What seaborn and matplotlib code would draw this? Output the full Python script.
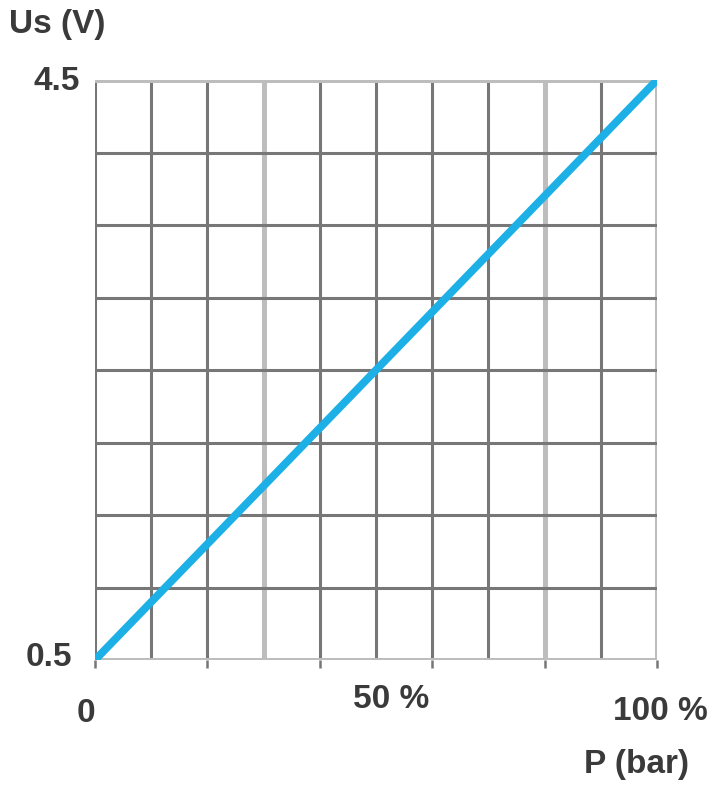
import matplotlib
matplotlib.use("Agg")
import matplotlib.pyplot as plt
import seaborn as sns
import pandas as pd

sns.set_theme(style="white")
plt.rcParams['font.family'] = ['Liberation Sans', 'DejaVu Sans']

pressure_pct = [0, 100]
voltage = [0.5, 4.5]
x_grid = [0, 10, 20, 30, 40, 50, 60, 70, 80, 90, 100]
x_light = [30, 80, 100]
y_grid = [0.5, 1.0, 1.5, 2.0, 2.5, 3.0, 3.5, 4.0, 4.5]
y_light = [0.5, 4.5]

df = pd.DataFrame({"P": pressure_pct, "Us": voltage})

fig = plt.figure(figsize=(7.16, 8), dpi=100)
ax = fig.add_axes([95/716, 1-660/800, (657-95)/716, (660-80)/800])

dark = "#777777"
light = "#bdbdbd"
for xv in x_grid:
    if xv in x_light:
        ax.axvline(xv, color=light, lw=3.6, zorder=1)
    else:
        ax.axvline(xv, color=dark, lw=2.2, zorder=1)
for yv in y_grid:
    if yv in y_light:
        ax.axhline(yv, color=light, lw=3.6, zorder=1)
    else:
        ax.axhline(yv, color=dark, lw=2.2, zorder=1)

sns.lineplot(data=df, x="P", y="Us", ax=ax, color="#1cb0e6", lw=5.6,
             zorder=3, solid_capstyle="butt")

ax.set_xlim(0, 100)
ax.set_ylim(0.5, 4.5)
for s in ax.spines.values():
    s.set_visible(False)
ax.set_xticks([0, 20, 40, 60, 80, 100])
ax.set_xticklabels([])
ax.tick_params(axis="x", length=6, width=1.8, color=dark, bottom=True, direction="out")
ax.set_yticks([])
ax.set_xlabel("")
ax.set_ylabel("")

fs = 24
tc = "#3a3a3a"
kw = dict(fontsize=fs, color=tc, fontweight="bold")
fig.text(86/716, 1-713/800, "0", ha="center", va="center", **kw)
fig.text(391/716, 1-700/800, "50 %", ha="center", va="center", **kw)
fig.text(660/716, 1-711/800, "100 %", ha="center", va="center", **kw)
fig.text(636/716, 1-765/800, "P (bar)", ha="center", va="center", **kw)
fig.text(57/716, 1-24/800, "Us (V)", ha="center", va="center", **kw)
fig.text(80/716, 1-81/800, "4.5", ha="right", va="center", **kw)
fig.text(72/716, 1-658/800, "0.5", ha="right", va="center", **kw)

fig.savefig("out.png", dpi=100)
